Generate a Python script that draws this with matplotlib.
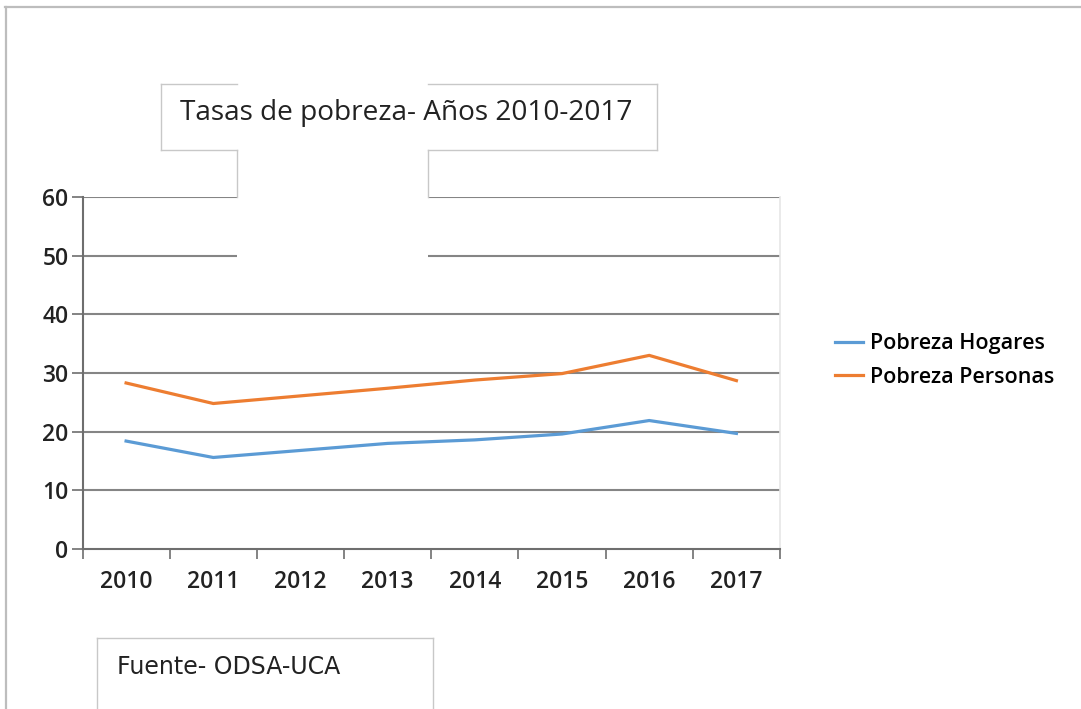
import matplotlib.pyplot as plt
from matplotlib.lines import Line2D
from matplotlib.patches import Rectangle

# datos
years = ['2010', '2011', '2012', '2013', '2014', '2015', '2016', '2017']
hogares = [18.4, 15.6, 16.8, 18.0, 18.6, 19.6, 21.9, 19.7]
personas = [28.3, 24.8, 26.1, 27.4, 28.8, 29.9, 33.0, 28.7]
y_ticks = [0, 10, 20, 30, 40, 50, 60]

W, H = 1081, 709
fig = plt.figure(figsize=(W / 100, H / 100), dpi=100)
fig.patch.set_facecolor('white')


def fx(px):
    return px / W


def fy(py):
    return 1 - py / H


def fig_line(x0, y0, x1, y1, color='#c8c8c8', lw=1.0, z=3):
    fig.add_artist(Line2D([fx(x0), fx(x1)], [fy(y0), fy(y1)], color=color,
                          lw=lw, transform=fig.transFigure, zorder=z))


tick_font = {'family': 'Open Sans', 'size': 16.5, 'weight': 'semibold'}

ax = fig.add_axes([fx(82.5), fy(549), fx(780) - fx(82.5), fy(197) - fy(549)])
x = list(range(len(years)))
ax.plot(x, hogares, color='#5b9bd5', lw=2.3, label='Pobreza Hogares',
        solid_joinstyle='miter', zorder=4)
ax.plot(x, personas, color='#ed7d31', lw=2.3, label='Pobreza Personas',
        solid_joinstyle='miter', zorder=4)

ax.set_xlim(-0.5, len(years) - 0.5)
ax.set_ylim(0, 60)
ax.set_yticks(y_ticks)
ax.set_yticklabels([str(v) for v in y_ticks], color='#222222', **tick_font)
ax.set_xticks([i - 0.5 for i in range(len(years) + 1)])
ax.set_xticklabels([])
ax.set_xticks(x, minor=True)
ax.set_xticklabels(years, minor=True, color='#222222', **tick_font)
ax.tick_params(axis='x', which='major', length=7.5, width=1.2, color='#6e6e6e',
               direction='out')
ax.tick_params(axis='x', which='minor', length=0, pad=15)
ax.tick_params(axis='y', length=8, width=1.2, color='#6e6e6e', pad=2)

for v in y_ticks[1:]:
    ax.axhline(v, color='#858585', lw=1.5, zorder=1)
ax.spines['top'].set_visible(False)
ax.spines['right'].set_color('#e6e6e6')
ax.spines['right'].set_linewidth(1.2)
for s in ['left', 'bottom']:
    ax.spines[s].set_color('#6e6e6e')
    ax.spines[s].set_linewidth(1.5)

fig.legend(loc='center left', bbox_to_anchor=(fx(816), fy(360.5)), frameon=False,
           prop={'family': 'Open Sans', 'size': 15.5, 'weight': 'semibold'},
           handlelength=1.3, handletextpad=0.33, labelspacing=0.6)

# caja blanca que tapa la rejilla bajo el titulo
fig.add_artist(Rectangle((fx(237), fy(265)), fx(428) - fx(237), fy(84) - fy(265),
                         transform=fig.transFigure, facecolor='white',
                         edgecolor='none', zorder=2))

# borde del titulo
fig_line(161, 83.5, 237, 83.5)
fig_line(428, 83.5, 657, 83.5)
fig_line(161, 83.5, 161, 150)
fig_line(657, 83.5, 657, 150)
fig_line(161, 150, 237, 150)
fig_line(428, 150, 657, 150)
fig_line(237, 150, 237, 197)
fig_line(428, 150, 428, 197)
fig.text(fx(180), fy(113), 'Tasas de pobreza- Años 2010-2017', fontsize=20.2,
         family='Open Sans', color='#222222', va='center', ha='left', zorder=5)

# caja de la fuente
fig_line(97, 638, 433, 638)
fig_line(97, 638, 97, 709)
fig_line(433, 638, 433, 709)
fig.text(fx(117), fy(667), 'Fuente- ODSA-UCA', fontsize=17, family='DejaVu Sans',
         color='#222222', va='center', ha='left', zorder=5)

# borde exterior
fig_line(5, 7, W, 7, color='#bdbdbd', lw=1.6)
fig_line(5.5, 7, 5.5, H, color='#bdbdbd', lw=1.6)

fig.savefig('out.png', dpi=100)
